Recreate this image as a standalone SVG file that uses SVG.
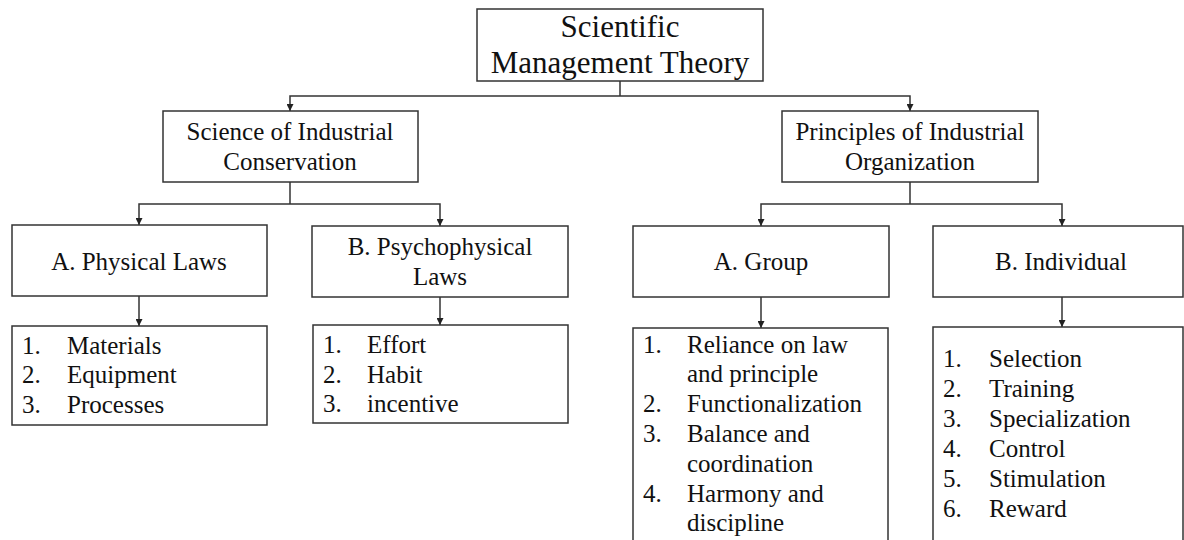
<svg xmlns="http://www.w3.org/2000/svg" width="1184" height="540" viewBox="0 0 1184 540">
  <defs>
    <style>
      .box { fill: #ffffff; stroke: #333333; stroke-width: 1.5; }
      .edge { fill: none; stroke: #333333; stroke-width: 1.5; }
      text { font-size: 25px; fill: #111111; }
      .title { font-size: 31px; }
      .c { text-anchor: middle; }
    </style>
    <marker id="arrow" viewBox="0 0 10 10" refX="10" refY="5" markerWidth="8" markerHeight="7" markerUnits="userSpaceOnUse" orient="auto">
      <path d="M0,0 L10,5 L0,10 z" fill="#222222"/>
    </marker>
  </defs>
  <rect width="1184" height="540" fill="#ffffff"/>

  <!-- connectors -->
  <g id="connectors">
    <path class="edge" d="M620,81 V96"/>
    <path class="edge" d="M620,96 H290 V111" marker-end="url(#arrow)"/>
    <path class="edge" d="M620,96 H910 V111" marker-end="url(#arrow)"/>

    <path class="edge" d="M290,182 V204"/>
    <path class="edge" d="M290,204 H139 V225" marker-end="url(#arrow)"/>
    <path class="edge" d="M290,204 H440 V226" marker-end="url(#arrow)"/>

    <path class="edge" d="M910,182 V204"/>
    <path class="edge" d="M910,204 H761 V226" marker-end="url(#arrow)"/>
    <path class="edge" d="M910,204 H1062 V226" marker-end="url(#arrow)"/>

    <path class="edge" d="M139,296 V326" marker-end="url(#arrow)"/>
    <path class="edge" d="M440,297 V325" marker-end="url(#arrow)"/>
    <path class="edge" d="M761,297 V328" marker-end="url(#arrow)"/>
    <path class="edge" d="M1062,297 V327" marker-end="url(#arrow)"/>
  </g>

  <g font-family="'Liberation Serif', 'DejaVu Serif', 'Noto Serif', 'Times New Roman', Times, serif">
  <!-- root -->
  <g id="root">
    <rect class="box" x="477" y="9" width="286" height="72"/>
    <text class="title c" x="620" y="37">Scientific</text>
    <text class="title c" x="620" y="73">Management Theory</text>
  </g>

  <!-- second level -->
  <g id="conservation">
    <rect class="box" x="163" y="111" width="255" height="71"/>
    <text class="c" x="290" y="140">Science of Industrial</text>
    <text class="c" x="290" y="170">Conservation</text>
  </g>
  <g id="organization">
    <rect class="box" x="782" y="111" width="256" height="71"/>
    <text class="c" x="910" y="140">Principles of Industrial</text>
    <text class="c" x="910" y="170">Organization</text>
  </g>

  <!-- third level -->
  <g id="physical">
    <rect class="box" x="12" y="225" width="255" height="71"/>
    <text class="c" x="139" y="270">A. Physical Laws</text>
  </g>
  <g id="psychophysical">
    <rect class="box" x="312" y="226" width="256" height="71"/>
    <text class="c" x="440" y="255">B. Psychophysical</text>
    <text class="c" x="440" y="285">Laws</text>
  </g>
  <g id="group">
    <rect class="box" x="633" y="226" width="256" height="71"/>
    <text class="c" x="761" y="270">A. Group</text>
  </g>
  <g id="individual">
    <rect class="box" x="933" y="226" width="250" height="71"/>
    <text class="c" x="1061" y="270">B. Individual</text>
  </g>

  <!-- item lists -->
  <g id="physical-items">
    <rect class="box" x="12" y="326" width="255" height="99"/>
    <text x="22" y="354">1.</text><text x="67" y="354">Materials</text>
    <text x="22" y="383">2.</text><text x="67" y="383">Equipment</text>
    <text x="22" y="413">3.</text><text x="67" y="413">Processes</text>
  </g>
  <g id="psychophysical-items">
    <rect class="box" x="313" y="325" width="255" height="98"/>
    <text x="323" y="353">1.</text><text x="367" y="353">Effort</text>
    <text x="323" y="383">2.</text><text x="367" y="383">Habit</text>
    <text x="323" y="412">3.</text><text x="367" y="412">incentive</text>
  </g>
  <g id="group-items">
    <rect class="box" x="633" y="328" width="255" height="230"/>
    <text x="643" y="353">1.</text><text x="687" y="353">Reliance on law</text>
    <text x="687" y="382">and principle</text>
    <text x="643" y="412">2.</text><text x="687" y="412">Functionalization</text>
    <text x="643" y="442">3.</text><text x="687" y="442">Balance and</text>
    <text x="687" y="472">coordination</text>
    <text x="643" y="502">4.</text><text x="687" y="502">Harmony and</text>
    <text x="687" y="531">discipline</text>
  </g>
  <g id="individual-items">
    <rect class="box" x="933" y="327" width="250" height="230"/>
    <text x="943" y="367">1.</text><text x="989" y="367">Selection</text>
    <text x="943" y="397">2.</text><text x="989" y="397">Training</text>
    <text x="943" y="427">3.</text><text x="989" y="427">Specialization</text>
    <text x="943" y="457">4.</text><text x="989" y="457">Control</text>
    <text x="943" y="487">5.</text><text x="989" y="487">Stimulation</text>
    <text x="943" y="517">6.</text><text x="989" y="517">Reward</text>
  </g>
  </g>
</svg>
